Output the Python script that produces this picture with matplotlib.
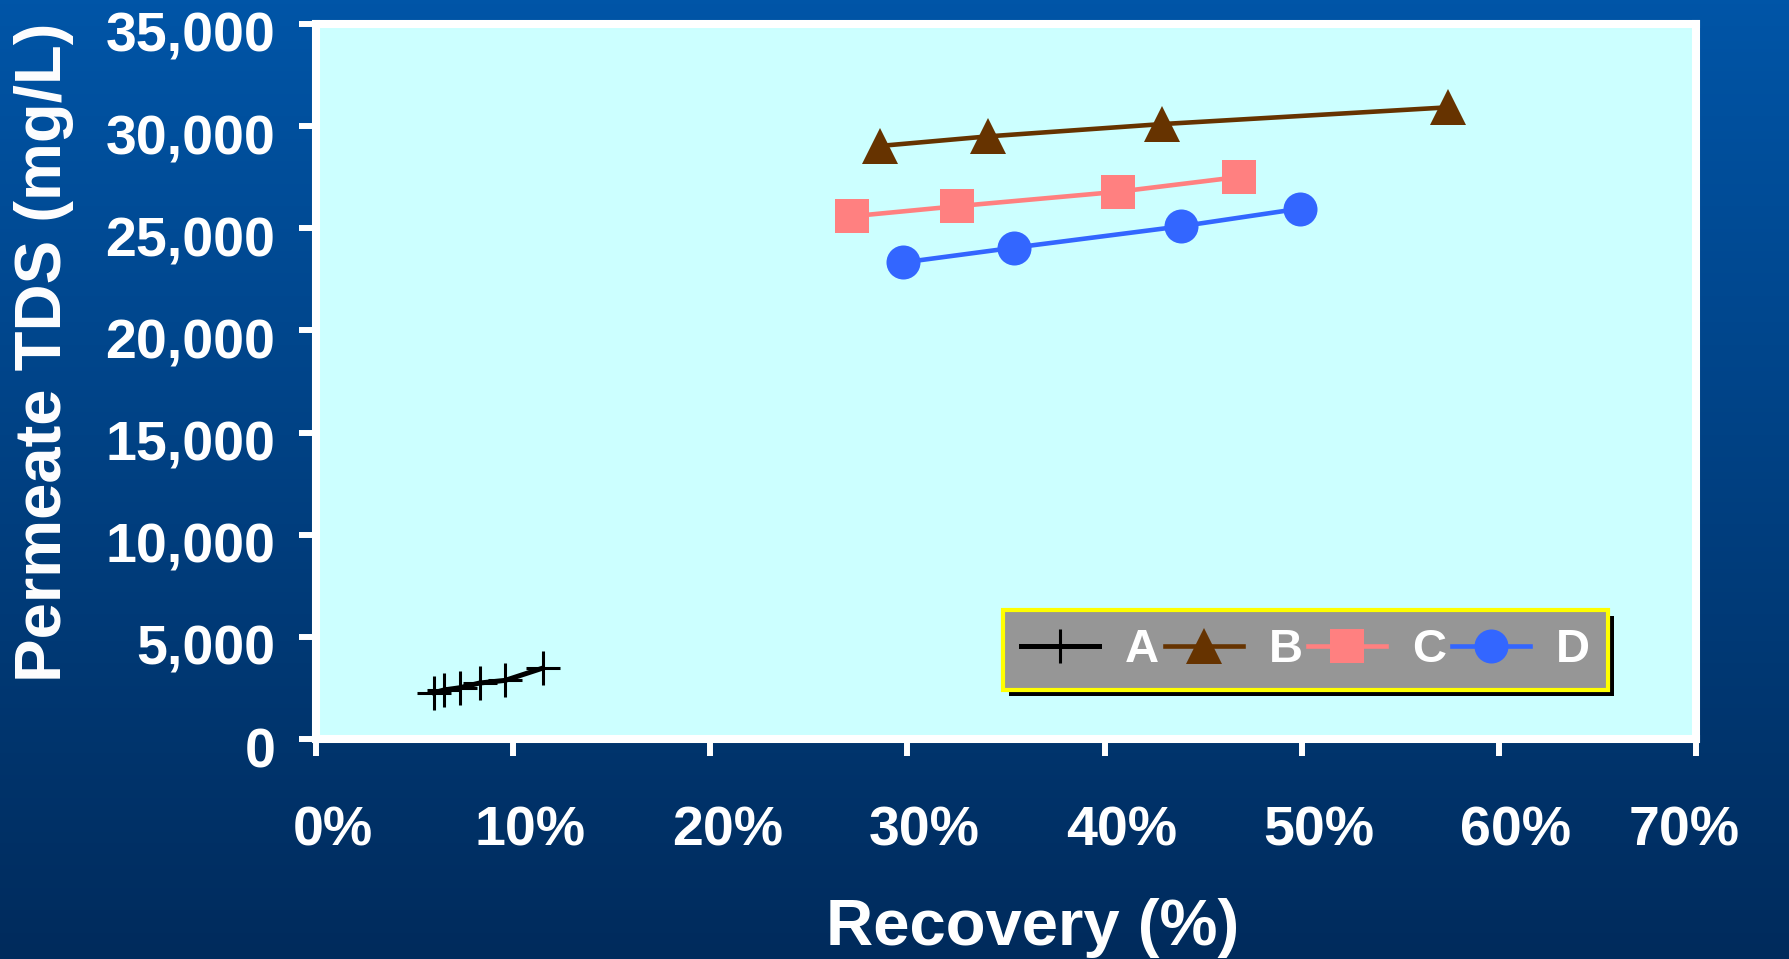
import numpy as np
import matplotlib
matplotlib.use('Agg')
import matplotlib.pyplot as plt
import matplotlib.transforms as mtransforms
from matplotlib.patches import Rectangle
from matplotlib.ticker import FuncFormatter, PercentFormatter

plt.rcParams['font.family'] = ['Liberation Sans', 'DejaVu Sans']
plt.rcParams['font.weight'] = 'bold'

# recovery (fraction of feed) vs permeate TDS (mg/L)
a_rec = [0.060, 0.065, 0.073, 0.083, 0.096, 0.115]
a_tds = [2270, 2400, 2510, 2740, 2870, 3470]
b_rec = [0.286, 0.341, 0.429, 0.574]
b_tds = [29030, 29500, 30100, 30920]
c_rec = [0.272, 0.325, 0.407, 0.468]
c_tds = [25590, 26080, 26790, 27510]
d_rec = [0.298, 0.354, 0.439, 0.499]
d_tds = [23330, 24050, 25100, 25960]

x_ticks = [0.0, 0.1, 0.2, 0.3, 0.4, 0.5, 0.6, 0.7]
y_ticks = [0, 5000, 10000, 15000, 20000, 25000, 30000, 35000]

W, H = 1790, 959
fig = plt.figure(figsize=(W / 100, H / 100), dpi=100)

# slide background: vertical blue gradient
bg = fig.add_axes([0, 0, 1, 1], zorder=-10)
top = np.array([0, 85, 167]) / 255
bot = np.array([0, 43, 92]) / 255
t = np.linspace(0, 1, 256)[:, None, None]
grad = top * (1 - t) + bot * t
bg.imshow(grad, aspect='auto', extent=[0, 1, 0, 1])
bg.set_axis_off()

ax = fig.add_axes([316 / W, 1 - 739 / H, 1380 / W, 715 / H])
ax.set_facecolor('#CCFFFF')

ax.plot(a_rec, a_tds, color='black', lw=3.6, marker='+', ms=24, mew=2.2, label='A')
ax.plot(b_rec, b_tds, color='#663300', lw=3.3, marker='^', ms=26, mew=0, label='B')
ax.plot(c_rec, c_tds, color='#FF8080', lw=3.3, marker='s', ms=25, mew=0, label='C')
ax.plot(d_rec, d_tds, color='#3366FF', lw=3.3, marker='o', ms=24.5, mew=0, label='D')

ax.set_xlim(0, 0.7)
ax.set_ylim(0, 35000)
ax.set_xticks(x_ticks)
ax.set_yticks(y_ticks)
ax.xaxis.set_major_formatter(PercentFormatter(xmax=1, decimals=0))
ax.yaxis.set_major_formatter(FuncFormatter(lambda v, p: f'{v:,.0f}'))

for s in ax.spines.values():
    s.set_color('white')
    s.set_linewidth(5.8)
    s.set_capstyle('projecting')

ax.tick_params(direction='out', length=12.2, width=4.3, color='white',
               labelcolor='white', labelsize=40)
ax.tick_params(axis='x', pad=36)
ax.tick_params(axis='y', pad=17)

xlabels = ax.get_xticklabels()
for i, lab in enumerate(xlabels):
    shift = 17 if i < len(xlabels) - 1 else -12  # last label pulled in from the edge
    off = mtransforms.ScaledTranslation(shift / 100, 0, fig.dpi_scale_trans)
    lab.set_transform(lab.get_transform() + off)
dy = mtransforms.ScaledTranslation(0, -8 / 100, fig.dpi_scale_trans)
for lab in ax.get_yticklabels():
    lab.set_transform(lab.get_transform() + dy)

fig.text(1033 / W, 1 - 945 / H, 'Recovery (%)', ha='center', va='baseline',
         fontsize=47, color='white', weight='bold')
fig.text(44 / W, 1 - 352 / H, 'Permeate TDS (mg/L)', rotation=90, ha='center',
         va='center', fontsize=47, color='white', weight='bold')

leg = ax.legend(loc='upper left', bbox_to_anchor=(0.498, 0.180), ncol=4,
                prop={'size': 34, 'weight': 'bold'}, labelcolor='white',
                facecolor='#969696', edgecolor='#FFFF00', framealpha=1,
                fancybox=False, handlelength=1.65, handletextpad=0.55,
                columnspacing=0.12, borderpad=0.38, borderaxespad=0, numpoints=1)
leg.get_frame().set_linewidth(3.0)

# hard black drop shadow behind the legend box
fig.canvas.draw()
bb = leg.get_frame().get_window_extent()
ax.add_patch(Rectangle((bb.x0 + 6, bb.y0 - 6), bb.width, bb.height,
                       transform=mtransforms.IdentityTransform(),
                       facecolor='black', edgecolor='none', zorder=4.9, clip_on=False))

fig.savefig('out.png', dpi=100)
